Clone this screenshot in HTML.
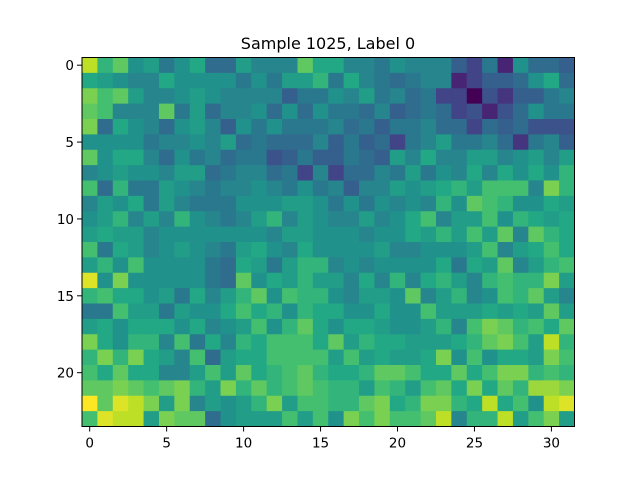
<!DOCTYPE html>
<html><head><meta charset="utf-8"><style>
html,body{margin:0;padding:0;background:#fff;}
svg{display:block;font-family:"DejaVu Sans","Liberation Sans",sans-serif;}
</style></head>
<body>
<svg id="chart" width="640" height="480" viewBox="0 0 640 480" xmlns="http://www.w3.org/2000/svg">
<rect width="640" height="480" fill="#fff"/>
<text x="328" y="49" text-anchor="middle" font-size="16px" fill="#000">Sample 1025, Label 0</text>
<g id="cells"></g>
<g id="axes"></g>
</svg>
<script>
const xTicks = [0,5,10,15,20,25,30];
const yTicks = [0,5,10,15,20];
const vmin = 0, vmax = 20;
const values = [
[18,13,15,10,11,8,10,12,7,7,11,9,9,9,15,12, 12,9,9,8,10,9,9,9,6,4,8,2,10,7,7,6],
[12,11,10,9,9,12,10,10,10,10,8,10,8,11,11,13, 8,12,9,8,7,8,9,9,2,4,6,6,7,10,12,7],
[16,14,15,11,9,9,10,11,10,9,9,9,9,6,8,8, 10,9,11,8,9,7,8,4,4,0,5,3,6,6,8,9],
[15,14,9,9,9,15,8,11,7,9,9,10,7,10,7,10, 8,8,7,9,6,7,8,7,4,5,2,5,7,10,8,8],
[16,7,12,10,9,7,10,11,9,6,10,8,10,8,8,8, 9,7,8,6,8,8,9,7,7,4,7,6,7,5,5,5],
[10,10,10,10,8,9,9,10,9,11,7,8,7,7,7,9, 6,8,6,7,4,8,9,11,8,8,9,7,3,8,9,6],
[15,10,12,12,9,7,10,8,9,7,8,8,5,6,8,6, 6,8,7,6,11,9,12,9,9,11,11,9,10,11,9,11],
[9,10,11,10,10,9,11,11,7,8,9,9,7,8,4,9, 4,7,7,9,8,11,8,10,9,12,9,12,10,12,10,13],
[14,7,13,8,8,11,10,9,8,9,9,10,9,8,10,8, 9,6,9,9,11,10,11,12,13,11,14,14,14,9,16,13],
[9,11,10,12,8,11,9,8,8,8,10,10,10,11,11,10, 8,10,8,10,9,10,9,13,10,15,14,13,10,10,12,11],
[10,11,13,9,11,9,13,10,9,8,9,11,13,9,11,10, 9,9,11,9,10,12,14,9,11,11,14,10,13,12,11,12],
[11,12,11,11,9,10,10,10,10,10,10,10,9,11,11,10, 10,10,9,10,10,12,11,13,11,14,11,15,9,15,13,12],
[14,8,12,11,9,10,11,10,9,8,11,12,10,9,12,10, 10,10,10,11,9,9,10,10,10,11,14,9,11,12,14,12],
[11,13,10,14,10,10,10,10,8,7,12,11,8,11,13,13, 9,10,9,10,10,10,10,12,8,12,11,15,9,11,13,14],
[19,10,16,10,10,10,10,10,8,7,15,10,12,11,13,11, 11,9,12,9,13,9,12,13,11,9,13,14,13,13,16,11],
[13,14,12,12,10,11,8,12,9,11,13,15,10,14,13,13, 10,9,11,11,10,15,9,11,13,9,10,14,13,15,11,9],
[8,8,14,11,11,8,11,10,10,12,14,12,13,10,13,12, 12,10,10,12,10,10,14,11,11,11,12,11,12,11,15,11],
[11,12,10,12,12,12,10,12,9,10,11,14,10,13,15,12, 10,12,12,11,10,10,11,13,9,14,16,15,13,14,12,15],
[16,12,10,13,13,9,14,8,12,9,13,12,14,14,14,12, 15,11,13,12,12,11,11,11,12,13,15,16,14,11,18,13],
[13,16,13,16,12,11,9,14,7,11,12,12,14,14,14,14, 11,14,11,12,11,11,12,16,10,14,10,12,12,11,16,14],
[14,12,15,12,12,9,9,11,14,11,15,12,13,14,15,13, 12,12,13,15,15,14,12,12,15,12,14,16,16,13,14,13],
[15,15,16,15,14,15,16,13,11,16,13,15,13,14,15,14, 13,13,11,14,13,11,14,15,12,16,12,15,13,17,17,16],
[20,15,19,18,16,11,16,9,11,10,11,13,16,11,14,14, 13,13,15,16,12,13,16,16,13,12,18,12,14,10,18,19],
[14,19,18,18,11,16,15,15,7,10,11,11,11,14,11,14, 10,16,14,16,14,14,15,18,9,13,13,18,11,14,16,11]
];
const viridisStops = ["#440154","#482475","#414487","#355f8d","#2a788e","#21918c","#22a884","#44bf70","#7ad151","#bddf26","#fde725"];
function hex2rgb(h){return [parseInt(h.slice(1,3),16),parseInt(h.slice(3,5),16),parseInt(h.slice(5,7),16)];}
function viridis(t){
  t=Math.max(0,Math.min(1,t));
  const p=t*(viridisStops.length-1), i=Math.min(Math.floor(p),viridisStops.length-2), f=p-i;
  const a=hex2rgb(viridisStops[i]), b=hex2rgb(viridisStops[i+1]);
  return "rgb("+a.map((v,k)=>Math.round(v+(b[k]-v)*f)).join(",")+")";
}
const X0=82, X1=574.5, Y0=57.5, Y1=426.5;
const nCols=values[0].length, nRows=values.length;
const xScale = v => X0 + (v+0.5)/nCols*(X1-X0);
const yScale = v => Y0 + (v+0.5)/nRows*(Y1-Y0);
const NS="http://www.w3.org/2000/svg";
const cells=document.getElementById("cells");
const cw=(X1-X0)/nCols, ch=(Y1-Y0)/nRows;
values.forEach((row,r)=>row.forEach((v,c)=>{
  const el=document.createElementNS(NS,"rect");
  el.setAttribute("x",xScale(c)-cw/2);
  el.setAttribute("y",yScale(r)-ch/2);
  el.setAttribute("width",cw+0.4);
  el.setAttribute("height",ch+0.4);
  el.setAttribute("fill",viridis((v-vmin)/(vmax-vmin)));
  
  
  cells.appendChild(el);
}));
const axes=document.getElementById("axes");
const frame=document.createElementNS(NS,"rect");
frame.setAttribute("x",X0);frame.setAttribute("y",Y0);
frame.setAttribute("width",X1-X0);frame.setAttribute("height",Y1-Y0);
frame.setAttribute("fill","none");frame.setAttribute("stroke","#000");frame.setAttribute("stroke-width","1");


axes.appendChild(frame);
xTicks.forEach(t=>{
  const x=xScale(t);
  const ln=document.createElementNS(NS,"line");
  ln.setAttribute("x1",x);ln.setAttribute("x2",x);ln.setAttribute("y1",Y1);ln.setAttribute("y2",Y1+5);
  ln.setAttribute("stroke","#000");
  
  
  axes.appendChild(ln);
  const tx=document.createElementNS(NS,"text");
  tx.setAttribute("x",x);tx.setAttribute("y",Y1+21);tx.setAttribute("text-anchor","middle");
  tx.setAttribute("font-size","13.5px");tx.textContent=t;
  
  
  axes.appendChild(tx);
});
yTicks.forEach(t=>{
  const y=yScale(t);
  const ln=document.createElementNS(NS,"line");
  ln.setAttribute("x1",X0-5);ln.setAttribute("x2",X0);ln.setAttribute("y1",y);ln.setAttribute("y2",y);
  ln.setAttribute("stroke","#000");
  
  
  axes.appendChild(ln);
  const tx=document.createElementNS(NS,"text");
  tx.setAttribute("x",X0-8);tx.setAttribute("y",y+5);tx.setAttribute("text-anchor","end");
  tx.setAttribute("font-size","13.5px");tx.textContent=t;
  
  
  axes.appendChild(tx);
});
</script>
</body></html>
